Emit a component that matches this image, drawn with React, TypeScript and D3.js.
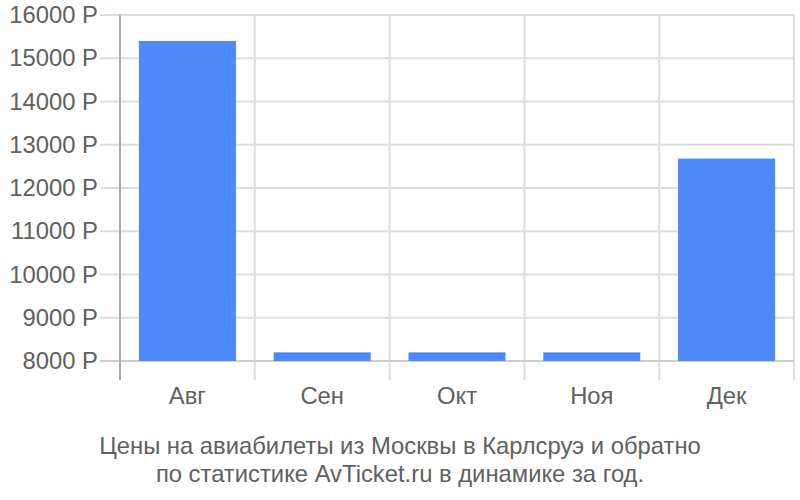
import { useEffect, useRef } from "react";
import * as d3 from "d3";

const months: string[] = ["Авг", "Сен", "Окт", "Ноя", "Дек"];
const prices: number[] = [15400, 8200, 8200, 8200, 12680];
const yTicks: number[] = [8000, 9000, 10000, 11000, 12000, 13000, 14000, 15000, 16000];
const captionLines: string[] = [
  "Цены на авиабилеты из Москвы в Карлсруэ и обратно",
  "по статистике AvTicket.ru в динамике за год.",
];

export default function App() {
  const svgRef = useRef<SVGSVGElement>(null);

  useEffect(() => {
    const width = 800;
    const height = 500;
    const margin = { top: 15, right: 6, bottom: 139, left: 120 };
    const font = "'Liberation Sans', Arial, sans-serif";
    const fontSize = 23.8;
    const textColor = "#606060";

    const svg = d3.select(svgRef.current).attr("width", width).attr("height", height);
    svg.selectAll("*").remove();

    const x = d3
      .scaleBand<string>()
      .domain(months)
      .range([margin.left, width - margin.right])
      .paddingInner(0.28)
      .paddingOuter(0.14);

    const y = d3
      .scaleLinear()
      .domain([8000, 16000])
      .range([height - margin.bottom, margin.top]);

    const bottom = height - margin.bottom;

    // vertical grid lines between categories, running below the baseline
    const edges = d3
      .range(months.length + 1)
      .map((i) => margin.left + i * x.step());
    svg
      .append("g")
      .selectAll("line")
      .data(edges)
      .join("line")
      .attr("x1", (d) => d)
      .attr("x2", (d) => d)
      .attr("y1", margin.top)
      .attr("y2", bottom + 19)
      .attr("stroke", "#ddd")
      .attr("stroke-width", 2);

    // horizontal grid lines
    svg
      .append("g")
      .selectAll("line")
      .data(yTicks)
      .join("line")
      .attr("x1", 100)
      .attr("x2", width - margin.right)
      .attr("y1", (d) => y(d))
      .attr("y2", (d) => y(d))
      .attr("stroke", (d) => (d === 8000 ? "#ccc" : "#ddd"))
      .attr("stroke-width", 2);

    // axis line
    svg
      .append("line")
      .attr("x1", margin.left)
      .attr("x2", margin.left)
      .attr("y1", margin.top)
      .attr("y2", bottom + 19)
      .attr("stroke", "#aaa")
      .attr("stroke-width", 2);

    svg
      .append("g")
      .selectAll("rect")
      .data(prices)
      .join("rect")
      .attr("x", (d, i) => x(months[i]) || 0)
      .attr("y", (d) => y(d))
      .attr("width", x.bandwidth())
      .attr("height", (d) => bottom - y(d))
      .attr("fill", "#4d89f9");

    svg
      .append("g")
      .selectAll("text")
      .data(yTicks)
      .join("text")
      .attr("x", 98)
      .attr("y", (d) => y(d) + 8)
      .attr("text-anchor", "end")
      .attr("font-family", font)
      .attr("font-size", fontSize)
      .attr("fill", textColor)
      .text((d) => `${d} Р`);

    svg
      .append("g")
      .selectAll("text")
      .data(months)
      .join("text")
      .attr("x", (d) => (x(d) || 0) + x.bandwidth() / 2)
      .attr("y", bottom + 43)
      .attr("text-anchor", "middle")
      .attr("font-family", font)
      .attr("font-size", fontSize)
      .attr("fill", textColor)
      .text((d) => d);

    svg
      .append("g")
      .selectAll("text")
      .data(captionLines)
      .join("text")
      .attr("x", width / 2)
      .attr("y", (d, i) => 454 + i * 28)
      .attr("text-anchor", "middle")
      .attr("font-family", font)
      .attr("font-size", fontSize)
      .attr("fill", textColor)
      .text((d) => d);
  }, []);

  return (
    <div style={{ position: "absolute", left: 0, top: 0 }}>
      <svg ref={svgRef}></svg>
    </div>
  );
}
